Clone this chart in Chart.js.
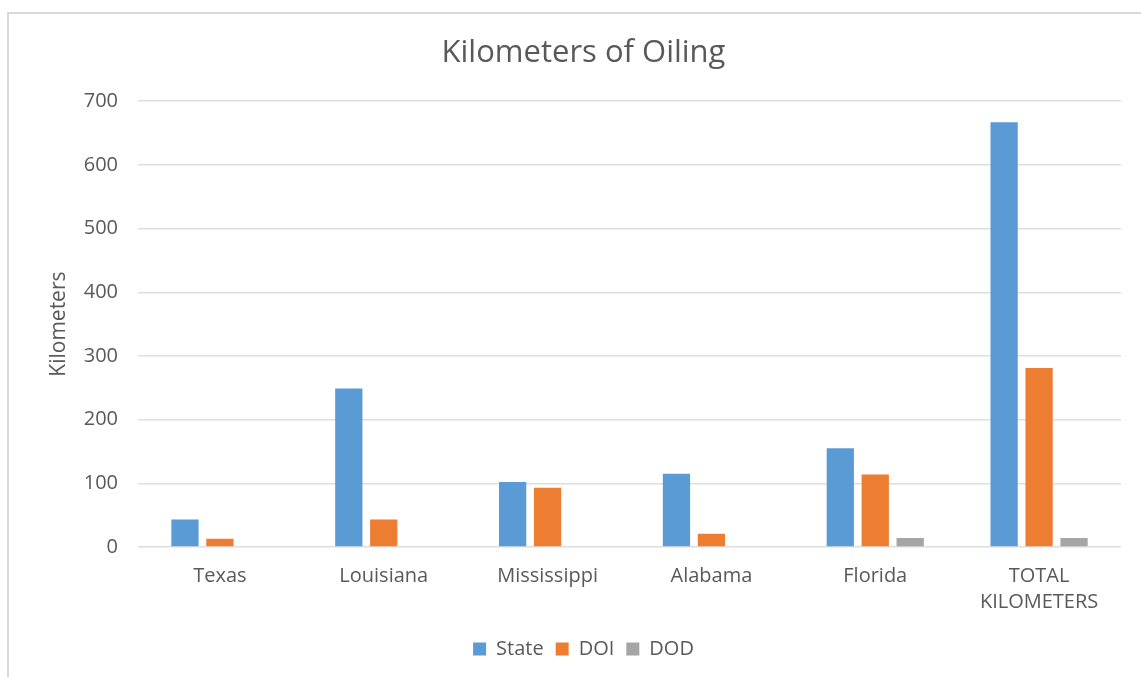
<!DOCTYPE html>
<html>
<head>
<meta charset="utf-8">
<title>Kilometers of Oiling</title>
<script src="https://cdn.jsdelivr.net/npm/chart.js@4"></script>
<style>
  html, body { margin: 0; padding: 0; background: #fff; }
  #wrap { position: relative; width: 1141px; height: 677px; overflow: hidden; }
  #frame {
    position: absolute; left: 7px; top: 12px; width: 1200px; height: 700px;
    border-left: 2px solid #d9d9d9; border-top: 2px solid #d9d9d9;
  }
  #chart { position: absolute; left: 0; top: 0; }
</style>
</head>
<body>
<div id="wrap">
  <div id="frame"></div>
  <canvas id="chart" width="1141" height="677"></canvas>
</div>
<script>
// Shoreline oiling by state and responsible agency (km)
const categories = ["Texas", "Louisiana", "Mississippi", "Alabama", "Florida", ["TOTAL", "KILOMETERS"]];
const stateKm = [43, 249, 102, 115, 155, 667];
const doiKm = [13, 43, 93, 21, 114, 281];
const dodKm = [null, null, null, null, 14, 14];
const yTicks = [0, 100, 200, 300, 400, 500, 600, 700];

const textColor = "#595959";
const fontFamily = "'Open Sans', 'Noto Sans', sans-serif";

const ctx = document.getElementById("chart").getContext("2d");
new Chart(ctx, {
  type: "bar",
  data: {
    labels: categories,
    datasets: [
      { label: "State", data: stateKm, backgroundColor: "#5b9bd5" },
      { label: "DOI", data: doiKm, backgroundColor: "#ed7d31" },
      { label: "DOD", data: dodKm, backgroundColor: "#a5a5a5" },
    ],
  },
  options: {
    responsive: false,
    animation: false,
    categoryPercentage: 0.64,
    barPercentage: 0.78,
    layout: { padding: { left: 46, right: 20, top: 0, bottom: 8 } },
    plugins: {
      title: {
        display: true,
        text: "Kilometers of Oiling",
        color: textColor,
        font: { family: fontFamily, size: 31, weight: "normal" },
        padding: { top: 35, bottom: 29 },
      },
      legend: {
        position: "bottom",
        labels: {
          color: textColor,
          boxWidth: 13,
          boxHeight: 13,
          padding: 12,
          font: { family: fontFamily, size: 20 },
        },
      },
      tooltip: { enabled: false },
    },
    scales: {
      x: {
        grid: { display: false },
        border: { display: false },
        ticks: {
          color: textColor,
          padding: 8,
          font: { family: fontFamily, size: 20, lineHeight: 1.3 },
          maxRotation: 0,
        },
        afterFit: (scale) => { scale.height = 80; },
      },
      y: {
        min: 0,
        max: 700,
        afterBuildTicks: (scale) => { scale.ticks = yTicks.map((v) => ({ value: v })); },
        grid: { color: "#dedede", lineWidth: 1.5, drawTicks: false },
        border: { display: false },
        ticks: {
          color: textColor,
          padding: 20,
          font: { family: fontFamily, size: 20 },
        },
        title: {
          display: true,
          text: "Kilometers",
          color: textColor,
          font: { family: fontFamily, size: 21 },
          padding: { top: 0, bottom: 4 },
        },
        afterFit: (scale) => { scale.width = 92; },
      },
    },
  },
});
</script>
</body>
</html>
